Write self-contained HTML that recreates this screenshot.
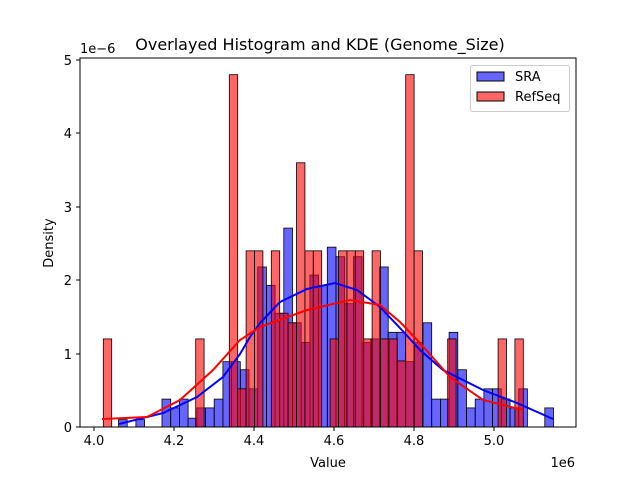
<!DOCTYPE html>
<html><head><meta charset="utf-8"><style>
html,body{margin:0;padding:0;background:#fff;}
svg{display:block;font-family:"DejaVu Sans","Liberation Sans",sans-serif;}
</style></head><body>
<svg id="s" width="640" height="480" viewBox="0 0 640 480" xmlns="http://www.w3.org/2000/svg">
<rect width="640" height="480" fill="#fff"/>
<g id="bars"></g>
<polyline fill="none" stroke="#0000ff" stroke-width="2" points="119,424 163,413 197,397 223,377 240,354 250,337 260,323 280,302 307,289 335,283 357,290 380,307 400,328 420,350 443,370 483,390 517,403 553,419"/>
<polyline fill="none" stroke="#ff0000" stroke-width="2" points="102,419 147,417 180,400 213,370 240,340 260,327 307,310 350,300 380,305 400,322 420,343 450,377 483,400 523,410"/>
<rect x="80" y="58" width="496" height="369" fill="none" stroke="#000" stroke-width="1"/>
<g stroke="#000" stroke-width="1">
<line x1="94" y1="427" x2="94" y2="431"/><line x1="174" y1="427" x2="174" y2="431"/><line x1="254" y1="427" x2="254" y2="431"/><line x1="334" y1="427" x2="334" y2="431"/><line x1="414" y1="427" x2="414" y2="431"/><line x1="494" y1="427" x2="494" y2="431"/>
<line x1="76" y1="427" x2="80" y2="427"/><line x1="76" y1="354" x2="80" y2="354"/><line x1="76" y1="280" x2="80" y2="280"/><line x1="76" y1="207" x2="80" y2="207"/><line x1="76" y1="133" x2="80" y2="133"/><line x1="76" y1="60" x2="80" y2="60"/>
</g>
<g font-size="13" text-anchor="middle" fill="#000">
<text x="94" y="445">4.0</text><text x="174" y="445">4.2</text><text x="254" y="445">4.4</text><text x="334" y="445">4.6</text><text x="414" y="445">4.8</text><text x="494" y="445">5.0</text>
<text x="328" y="467">Value</text>
<text x="320" y="50" font-size="16">Overlayed Histogram and KDE (Genome_Size)</text>
</g>
<g font-size="13" text-anchor="end" fill="#000">
<text x="72" y="432">0</text><text x="72" y="359">1</text><text x="72" y="285">2</text><text x="72" y="212">3</text><text x="72" y="138">4</text><text x="72" y="65">5</text>
</g>
<text x="80" y="53" font-size="13">1e−6</text>
<text x="575" y="467" font-size="13" text-anchor="end">1e6</text>
<text transform="translate(53,243) rotate(-90)" font-size="13" text-anchor="middle">Density</text>
<rect x="470.5" y="65.5" width="99" height="46" rx="2" fill="#fff" fill-opacity="0.8" stroke="#ccc"/>
<rect x="477" y="72" width="27" height="9" fill="rgb(102,102,255)" stroke="#000"/>
<rect x="477" y="92" width="27" height="9" fill="rgb(255,102,102)" stroke="#000"/>
<text x="515" y="81" font-size="13">SRA</text>
<text x="515" y="101" font-size="13">RefSeq</text>
</svg>
<script>
var blue=[0.1,0,0.1,0,0,0.38,0.26,0.38,0.12,0.26,0.26,0.38,0.89,0.89,0.78,0.52,2.18,1.93,1.55,2.71,1.42,1.15,2.07,1.93,2.45,2.32,1.68,2.32,1.15,1.2,2.18,1.29,1.29,0.89,1.15,1.42,0.38,0.38,1.29,0.78,0.26,0.38,0.52,0.52,0.38,0.26,0.52,0,0,0.26];
var red=[1.2,0,0,0,0,0,0,0,0,0,0,1.2,0,0,0,4.8,0.52,2.4,2.4,0,2.4,1.55,1.42,3.6,2.4,2.4,0,1.2,2.4,2.4,2.4,1.2,2.4,1.2,1.2,0.9,4.8,2.4,0,0,0,1.2,0,0,0,0,0,1.2,0,1.2];
var g=document.getElementById('bars'),ns='http://www.w3.org/2000/svg';
function draw(arr,x0,w,fill){arr.forEach(function(v,i){if(!v)return;var r=document.createElementNS(ns,'rect');var h=v*73.4;r.setAttribute('x',x0+w*i);r.setAttribute('y',427-h);r.setAttribute('width',w);r.setAttribute('height',h);r.setAttribute('fill',fill);r.setAttribute('fill-opacity','0.6');r.setAttribute('stroke','#000');r.setAttribute('stroke-width','0.8');g.appendChild(r);});}
draw(blue,118.5,8.7,'#0000ff');
draw(red,103.3,8.4,'#ff0000');
</script>
</body></html>
